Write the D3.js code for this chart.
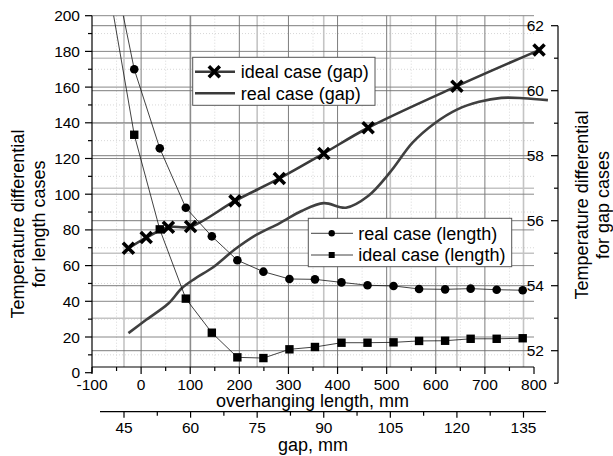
<!DOCTYPE html>
<html><head><meta charset="utf-8">
<script src="https://cdn.jsdelivr.net/npm/d3@7"></script>
<style>
html,body{margin:0;padding:0;background:#fff;}
text{font-family:"Liberation Sans",Arial,sans-serif;fill:#000;}
</style></head>
<body><svg id="c" width="613" height="456"></svg>
<script>
// ---- data ----
const lengthX = [-66, -14, 38, 91, 144, 196, 249, 302, 354, 408, 461, 514, 566, 619, 671, 724, 777];
const realLength = [240, 170, 125.7, 92.4, 76.4, 63.0, 56.6, 52.5, 52.3, 50.6, 49.0, 48.6, 46.9, 46.7, 47.1, 46.5, 46.2];
const idealLength = [216, 133.3, 80.3, 41.5, 22.4, 8.6, 8.2, 13.1, 14.4, 16.8, 16.8, 17.0, 17.8, 17.9, 19.0, 19.0, 19.3];
const gapIdealX = [46, 50, 55, 60, 70, 80, 90, 100, 120, 138.5];
const idealGap = [55.15, 55.48, 55.80, 55.82, 56.61, 57.30, 58.07, 58.86, 60.14, 61.25];
const gapRealX = [46, 50, 55, 58, 61, 65, 70, 75, 80, 85, 90, 95, 100, 105, 110, 115, 120, 125, 130, 135, 140.5];
const realGap = [52.54, 52.95, 53.45, 53.92, 54.22, 54.56, 55.12, 55.58, 55.92, 56.30, 56.54, 56.40, 56.76, 57.5, 58.4, 59.0, 59.42, 59.66, 59.78, 59.77, 59.71];
const lengthTicks = [-100, 0, 100, 200, 300, 400, 500, 600, 700, 800];
const gapTicks = [45, 60, 75, 90, 105, 120, 135];
const leftTicks = [0, 20, 40, 60, 80, 100, 120, 140, 160, 180, 200];
const rightTicks = [52, 54, 56, 58, 60, 62];
const legend1 = ["ideal case (gap)", "real case (gap)"];
const legend2 = ["real case (length)", "ideal case (length)"];

const svg = d3.select("#c");
const xL = d3.scaleLinear().domain([-100, 800]).range([92, 534]);
const xG = d3.scaleLinear().domain([45, 135]).range([124, 523.5]);
const yL = d3.scaleLinear().domain([0, 200]).range([372.7, 15.7]);
const yR = d3.scaleLinear().domain([51, 62]).range([383.2, 25.7]);
const X0 = 92, X1 = 534, Ytop = 15.7, Yx = 367;

// ---- grid ----
const g = svg.append("g");
d3.range(-50, 800, 100).forEach(v => g.append("line").attr("x1", xL(v)).attr("x2", xL(v)).attr("y1", Ytop).attr("y2", Yx)
  .attr("stroke", "#d8d8d8").attr("stroke-width", 1).attr("stroke-dasharray", "1,2"));
d3.range(10, 200, 20).forEach(v => g.append("line").attr("x1", X0).attr("x2", X1).attr("y1", yL(v)).attr("y2", yL(v))
  .attr("stroke", "#d8d8d8").attr("stroke-width", 1).attr("stroke-dasharray", "1,2"));
gapTicks.forEach(v => g.append("line").attr("x1", xG(v)).attr("x2", xG(v)).attr("y1", Ytop).attr("y2", Yx)
  .attr("stroke", "#c4c4c4").attr("stroke-width", 1.6));
d3.range(53, 62, 2).forEach(v => g.append("line").attr("x1", X0).attr("x2", X1).attr("y1", yR(v)).attr("y2", yR(v))
  .attr("stroke", "#c4c4c4").attr("stroke-width", 1.6));
lengthTicks.slice(1, -1).forEach(v => g.append("line").attr("x1", xL(v)).attr("x2", xL(v)).attr("y1", Ytop).attr("y2", Yx)
  .attr("stroke", "#6e6e6e").attr("stroke-width", 0.9));
leftTicks.slice(1).forEach(v => g.append("line").attr("x1", X0).attr("x2", X1).attr("y1", yL(v)).attr("y2", yL(v))
  .attr("stroke", "#7a7a7a").attr("stroke-width", 0.9));
rightTicks.forEach(v => g.append("line").attr("x1", X0).attr("x2", X1).attr("y1", yR(v)).attr("y2", yR(v))
  .attr("stroke", "#6e6e6e").attr("stroke-width", 0.9));

// ---- clip ----
svg.append("defs").append("clipPath").attr("id", "clip").append("rect")
  .attr("x", X0).attr("y", Ytop).attr("width", 548 - X0).attr("height", 380 - Ytop);
const plot = svg.append("g").attr("clip-path", "url(#clip)");

// ---- gap series ----
const realGapLine = d3.line().x((d, i) => xG(gapRealX[i])).y(d => yR(d)).curve(d3.curveCatmullRom.alpha(0.5));
plot.append("path").attr("d", realGapLine(realGap)).attr("fill", "none").attr("stroke", "#404040").attr("stroke-width", 2.6);
const idealGapLine = d3.line().x((d, i) => xG(gapIdealX[i])).y(d => yR(d)).curve(d3.curveCatmullRom.alpha(0.5));
plot.append("path").attr("d", idealGapLine(idealGap)).attr("fill", "none").attr("stroke", "#3a3a3a").attr("stroke-width", 2.6);
function xMark(sel, cx, cy, s) {
  sel.append("path").attr("d", `M${cx - s},${cy - s}L${cx + s},${cy + s}M${cx - s},${cy + s}L${cx + s},${cy - s}`)
    .attr("stroke", "#000").attr("stroke-width", 3.6).attr("fill", "none");
}
idealGap.forEach((v, i) => xMark(plot, xG(gapIdealX[i]), yR(v), 5.5));

// ---- length series ----
const lineL = d3.line().x((d, i) => xL(lengthX[i])).y(d => yL(d));
plot.append("path").attr("d", lineL(realLength)).attr("fill", "none").attr("stroke", "#111").attr("stroke-width", 0.8);
plot.append("path").attr("d", lineL(idealLength)).attr("fill", "none").attr("stroke", "#111").attr("stroke-width", 0.8);
realLength.forEach((v, i) => plot.append("circle").attr("cx", xL(lengthX[i])).attr("cy", yL(v)).attr("r", 4.3).attr("fill", "#000"));
idealLength.forEach((v, i) => plot.append("rect").attr("x", xL(lengthX[i]) - 4.2).attr("y", yL(v) - 4.2)
  .attr("width", 8.4).attr("height", 8.4).attr("fill", "#000"));

// ---- axes ----
const ax = svg.append("g").attr("stroke", "#000");
ax.append("line").attr("x1", X0).attr("x2", X0).attr("y1", yL(200)).attr("y2", yL(0)).attr("stroke-width", 1.2);
d3.range(0, 201, 10).forEach(v => ax.append("line").attr("x1", X0 - (v % 20 === 0 ? 7 : 4)).attr("x2", X0)
  .attr("y1", yL(v)).attr("y2", yL(v)).attr("stroke-width", 1.2));
leftTicks.forEach(v => svg.append("text").attr("x", 80).attr("y", yL(v) + 5.5).attr("text-anchor", "end")
  .attr("font-size", "15.5px").text(v));
ax.append("line").attr("x1", X0).attr("x2", X1).attr("y1", Yx).attr("y2", Yx).attr("stroke-width", 1.2);
d3.range(-100, 801, 50).forEach(v => ax.append("line").attr("x1", xL(v)).attr("x2", xL(v))
  .attr("y1", Yx).attr("y2", Yx + (v % 100 === 0 ? 7 : 4)).attr("stroke-width", 1.2));
lengthTicks.forEach(v => svg.append("text").attr("x", xL(v)).attr("y", 389.5).attr("text-anchor", "middle")
  .attr("font-size", "15.5px").text(v));
svg.append("text").attr("x", 312.5).attr("y", 407).attr("text-anchor", "middle").attr("font-size", "18px").text("overhanging length, mm");
ax.append("line").attr("x1", 100).attr("x2", 546).attr("y1", 411.7).attr("y2", 411.7).attr("stroke-width", 1.2);
d3.range(45, 136, 7.5).forEach(v => ax.append("line").attr("x1", xG(v)).attr("x2", xG(v))
  .attr("y1", 411.7).attr("y2", 411.7 + (v % 15 === 0 ? 6 : 4)).attr("stroke-width", 1.2));
gapTicks.forEach(v => svg.append("text").attr("x", xG(v)).attr("y", 433).attr("text-anchor", "middle")
  .attr("font-size", "15.5px").text(v));
svg.append("text").attr("x", 313).attr("y", 450.5).attr("text-anchor", "middle").attr("font-size", "18px").text("gap, mm");
ax.append("line").attr("x1", 558).attr("x2", 558).attr("y1", yR(62)).attr("y2", yR(51)).attr("stroke-width", 1.2);
d3.range(51, 62.1, 1).forEach(v => ax.append("line").attr("x1", 558 - (v % 2 === 0 ? 7 : 4)).attr("x2", 558)
  .attr("y1", yR(v)).attr("y2", yR(v)).attr("stroke-width", 1.2));
rightTicks.forEach(v => svg.append("text").attr("x", 544).attr("y", yR(v) + 5.5).attr("text-anchor", "end")
  .attr("font-size", "15.5px").text(v));

const lt = svg.append("text").attr("transform", "translate(24,224) rotate(-90)").attr("text-anchor", "middle").attr("font-size", "18px");
lt.append("tspan").attr("x", 0).attr("dy", 0).text("Temperature differential");
lt.append("tspan").attr("x", 0).attr("dy", 21).text("for length cases");
const rt = svg.append("text").attr("transform", "translate(588,205) rotate(-90)").attr("text-anchor", "middle").attr("font-size", "18px");
rt.append("tspan").attr("x", 0).attr("dy", 0).text("Temperature differential");
rt.append("tspan").attr("x", 0).attr("dy", 21).text("for gap cases");

// ---- legend 1 ----
const l1 = svg.append("g");
l1.append("rect").attr("x", 192.7).attr("y", 57.3).attr("width", 182.3).attr("height", 48)
  .attr("fill", "#fff").attr("stroke", "#555").attr("stroke-width", 1);
[71.7, 93.3].forEach((yy, i) => {
  l1.append("line").attr("x1", 195).attr("x2", 235).attr("y1", yy).attr("y2", yy).attr("stroke", "#3a3a3a").attr("stroke-width", 2.6);
  if (i === 0) xMark(l1, 214.3, yy, 5.5);
  l1.append("text").attr("x", 240.7).attr("y", yy + 6.3).attr("font-size", "18px").text(legend1[i]);
});
// ---- legend 2 ----
const l2 = svg.append("g");
l2.append("rect").attr("x", 308.3).attr("y", 218.3).attr("width", 203.4).attr("height", 48.4)
  .attr("fill", "#fff").attr("stroke", "#555").attr("stroke-width", 1);
[233.3, 255].forEach((yy, i) => {
  l2.append("line").attr("x1", 311).attr("x2", 353).attr("y1", yy).attr("y2", yy).attr("stroke", "#111").attr("stroke-width", 0.8);
  if (i === 0) l2.append("circle").attr("cx", 331.7).attr("cy", yy).attr("r", 3.2).attr("fill", "#000");
  else l2.append("rect").attr("x", 331.7 - 3).attr("y", yy - 3).attr("width", 6).attr("height", 6).attr("fill", "#000");
  l2.append("text").attr("x", 358.3).attr("y", yy + 6.3).attr("font-size", "18px").text(legend2[i]);
});
</script></body></html>
